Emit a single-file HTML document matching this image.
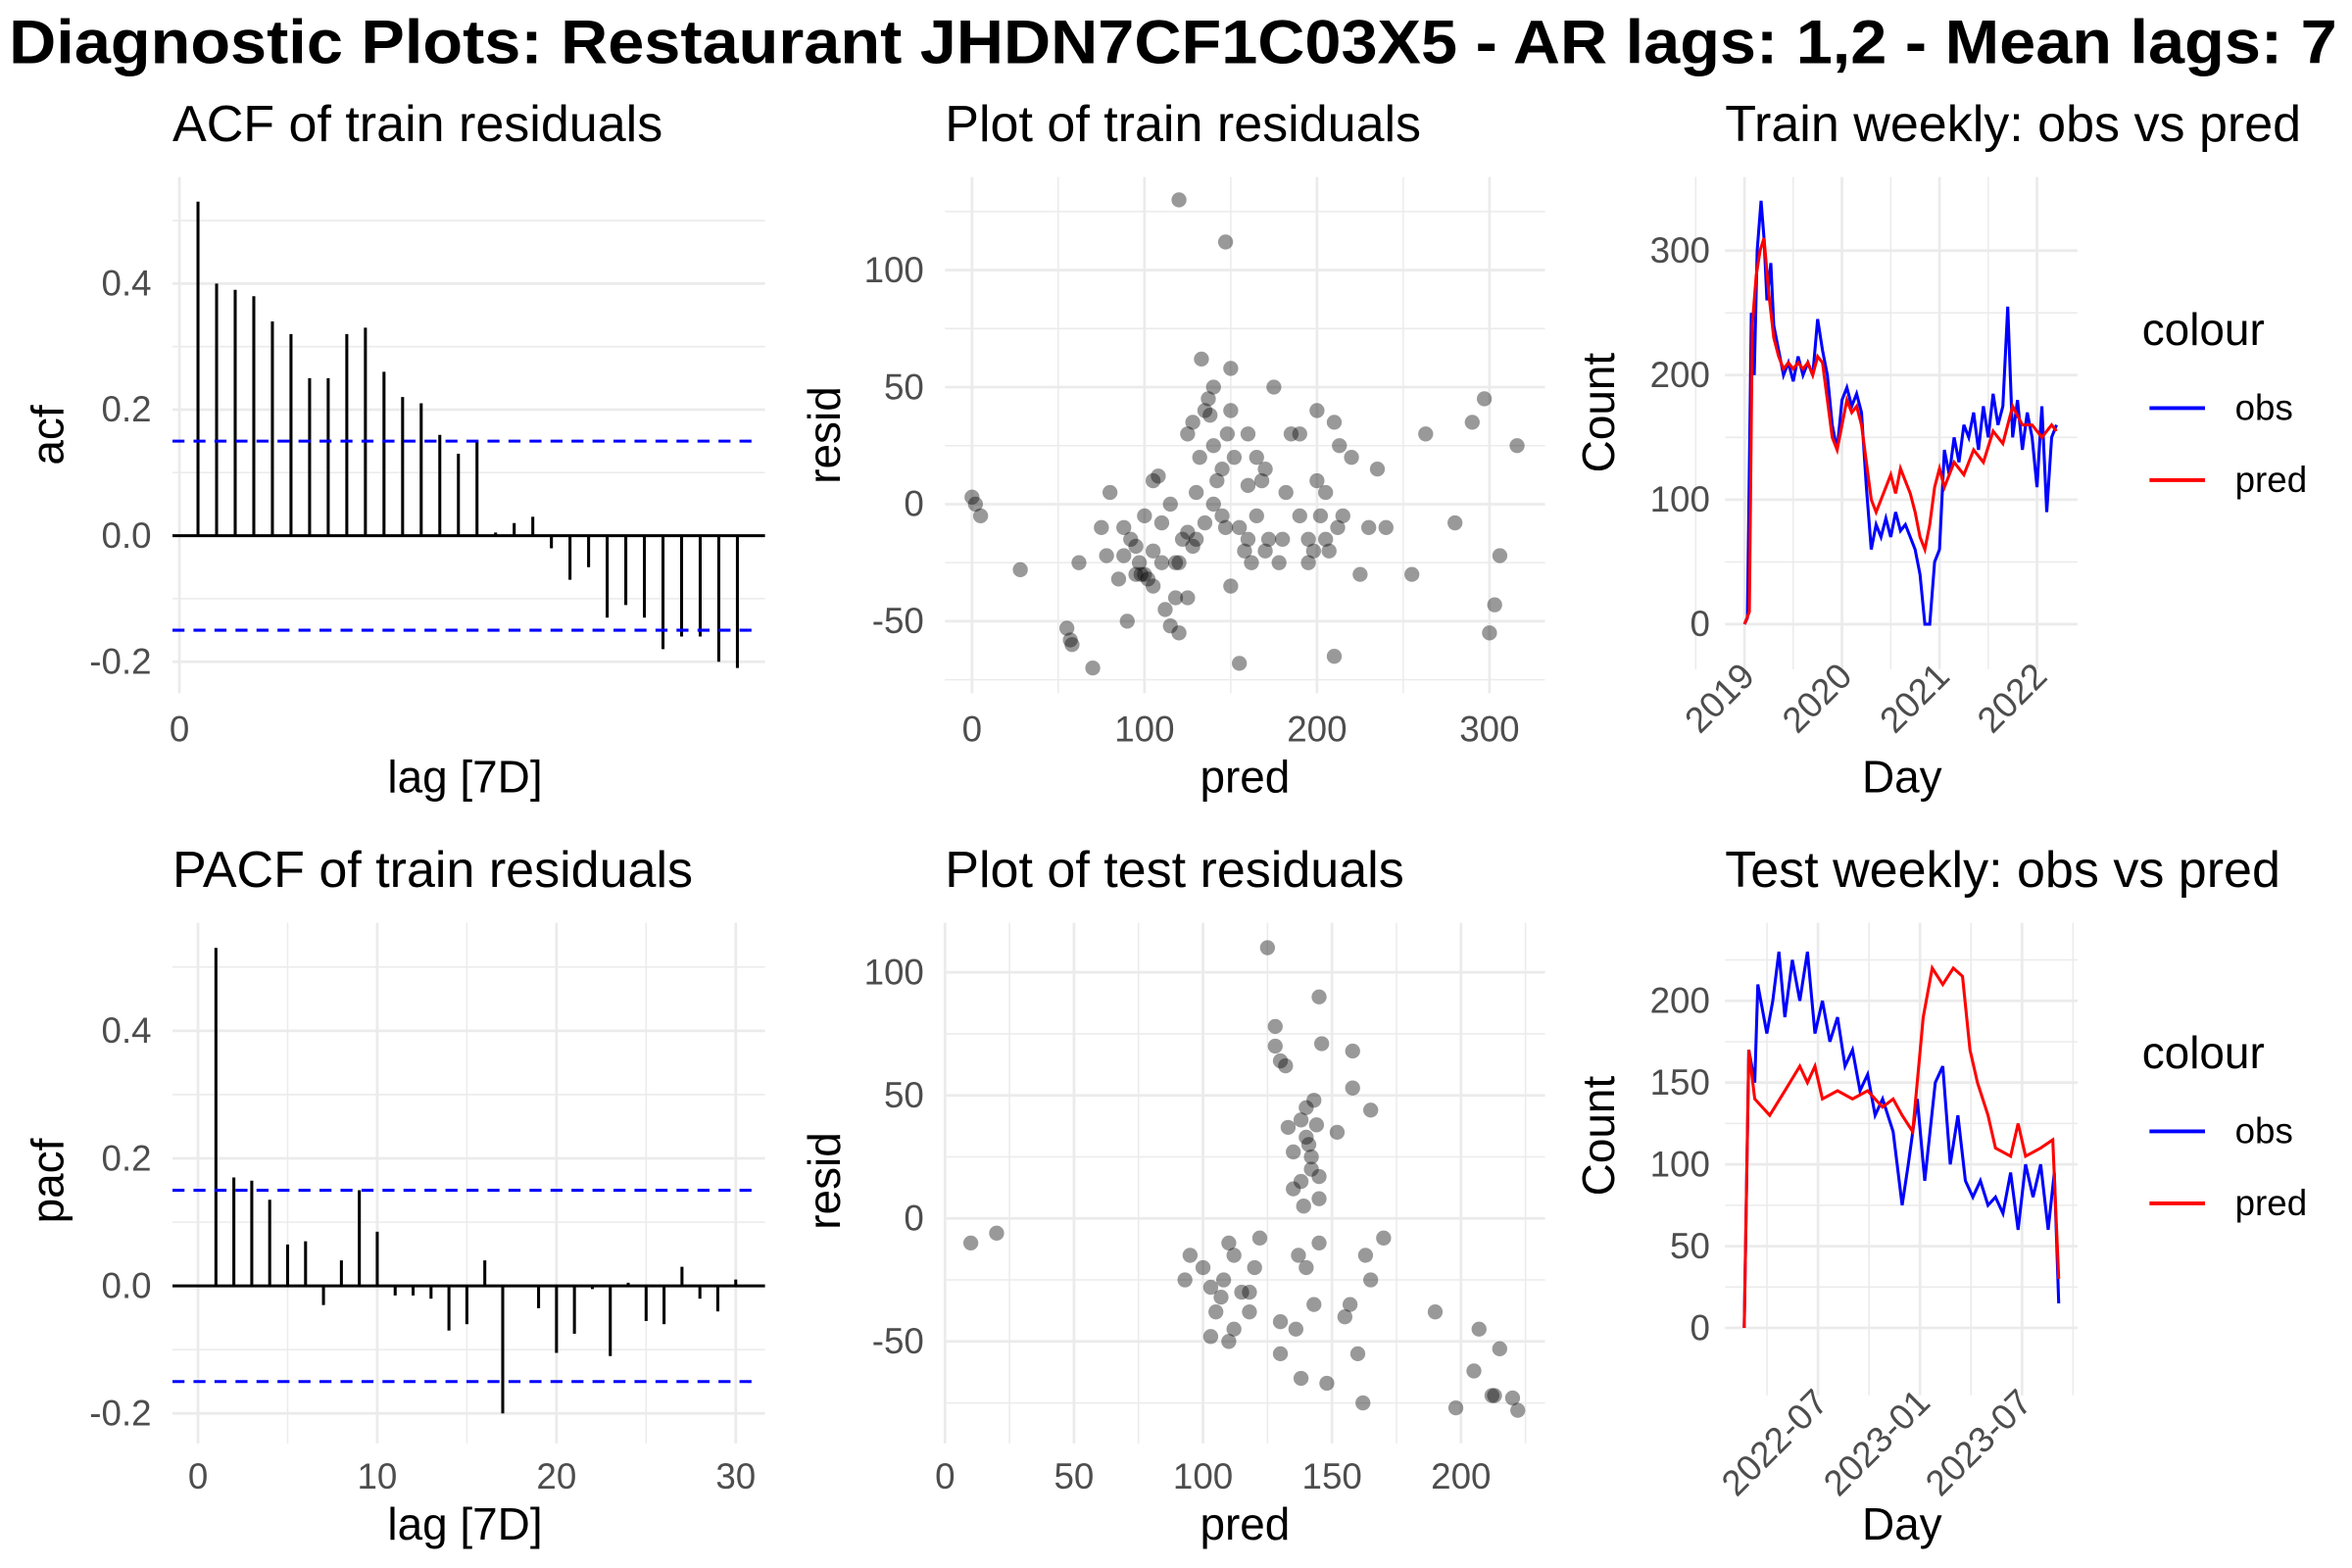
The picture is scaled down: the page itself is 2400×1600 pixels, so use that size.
<!DOCTYPE html>
<html><head><meta charset="utf-8"><style>
html,body{margin:0;padding:0;background:#fff;}
svg{display:block;font-family:"Liberation Sans",Arial,sans-serif;}
</style></head><body>
<svg id="chart" width="2400" height="1600" viewBox="0 0 1568 1045" preserveAspectRatio="none" xmlns="http://www.w3.org/2000/svg">
<rect width="1568" height="1045" fill="#fff"/>
<text x="6" y="42" font-size="41" font-weight="bold" fill="#000" textLength="1552" lengthAdjust="spacingAndGlyphs">Diagnostic Plots: Restaurant JHDN7CF1C03X5 - AR lags: 1,2 - Mean lags: 7</text>
</svg>
<script>
// ACF
const acfLags=[1,2,3,4,5,6,7,8,9,10,11,12,13,14,15,16,17,18,19,20,21,22,23,24,25,26,27,28,29,30];
const acfVals=[0.53,0.40,0.39,0.38,0.34,0.32,0.25,0.25,0.32,0.33,0.26,0.22,0.21,0.16,0.13,0.15,0.005,0.02,0.03,-0.02,-0.07,-0.05,-0.13,-0.11,-0.13,-0.18,-0.16,-0.16,-0.20,-0.21];
const acfTicks=[-0.2,0.0,0.2,0.4];
// PACF
const pacfLags=[1,2,3,4,5,6,7,8,9,10,11,12,13,14,15,16,17,18,19,20,21,22,23,24,25,26,27,28,29,30];
const pacfVals=[0.53,0.17,0.165,0.135,0.065,0.07,-0.03,0.04,0.15,0.085,-0.015,-0.015,-0.02,-0.07,-0.06,0.04,-0.2,0.0,-0.035,-0.105,-0.075,-0.005,-0.11,0.005,-0.055,-0.06,0.03,-0.02,-0.04,0.01];
const pacfXTicks=[0,10,20,30];
const ciBound=0.15;
// train residuals
const trPred=[0,2,5,28,55,57,58,62,70,75,78,80,85,88,90,92,95,97,98,100,102,105,100,105,108,110,112,115,118,120,118,122,125,128,125,128,130,132,135,137,138,140,140,142,145,147,148,150,150,152,155,155,158,160,162,165,168,170,172,175,178,180,182,185,190,195,198,200,200,202,205,207,210,210,212,215,220,225,230,235,240,255,263,280,290,297,300,303,306,316,120,147,115,130,135,140,145,105,110,125,160,165,150,133,120,88,95,160,170,190,195,205,213];
const trResid=[3,0,-5,-28,-53,-58,-60,-25,-70,-10,-22,5,-32,-22,-50,-15,-18,-25,-30,-30,-32,-20,-5,10,12,-8,-45,-52,-40,-55,-25,-15,-12,-18,30,35,5,20,40,45,38,25,50,10,-5,-10,30,58,-35,20,-10,-68,-20,30,-25,-5,10,15,-15,50,-25,-15,5,30,-5,-15,-20,10,40,-5,-15,-20,35,-65,-10,-5,20,-30,-10,15,-10,-30,30,-8,35,45,-55,-43,-22,25,130,112,0,-15,-8,0,15,-35,-25,-40,-15,20,40,62,-25,-10,-30,8,-20,30,-25,5,25];
const trXTicks=[0,100,200,300];
const trYTicks=[-50,0,50,100];
// test residuals
const tePred=[10,20,93,95,100,103,105,107,108,110,110,112,115,118,120,122,125,128,128,130,130,130,132,133,135,135,136,137,138,138,139,140,140,141,142,142,143,143,144,145,145,145,146,148,152,155,157,158,158,160,162,163,165,165,170,145,138,140,190,198,205,207,212,213,215,220,222,103,112,118];
const teResid=[-10,-6,-25,-15,-20,-28,-38,-32,-25,-10,-50,-15,-30,-38,-20,-8,110,78,70,64,-55,-42,62,37,27,12,-45,-15,40,-65,5,33,45,30,25,20,48,-35,38,17,8,-10,71,-67,35,-40,-35,53,68,-55,-75,-15,-25,44,-8,90,15,-20,-38,-77,-62,-45,-72,-72,-53,-73,-78,-48,-45,-30];
const teXTicks=[0,50,100,150,200];
const teYTicks=[-50,0,50,100];
// train weekly
const twObsT=[2019.0,2019.03,2019.07,2019.1,2019.13,2019.17,2019.2,2019.23,2019.27,2019.3,2019.35,2019.4,2019.45,2019.5,2019.55,2019.6,2019.65,2019.7,2019.75,2019.8,2019.85,2019.9,2019.95,2020.0,2020.05,2020.1,2020.15,2020.2,2020.25,2020.3,2020.35,2020.4,2020.45,2020.5,2020.55,2020.6,2020.65,2020.7,2020.75,2020.8,2020.85,2020.9,2020.95,2021.0,2021.05,2021.1,2021.15,2021.2,2021.25,2021.3,2021.35,2021.4,2021.45,2021.5,2021.55,2021.6,2021.65,2021.7,2021.75,2021.8,2021.85,2021.9,2021.95,2022.0,2022.05,2022.1,2022.15,2022.2];
const twObsV=[0,5,250,200,300,340,310,260,290,240,220,200,210,195,215,200,210,200,245,220,200,160,140,180,190,175,185,170,110,60,80,70,85,70,90,75,80,70,60,40,0,0,50,60,140,120,150,130,160,150,170,140,175,150,185,160,175,255,150,180,140,170,150,110,175,90,150,160];
const twPredT=[2019.0,2019.05,2019.08,2019.12,2019.16,2019.2,2019.25,2019.3,2019.35,2019.4,2019.45,2019.5,2019.55,2019.6,2019.65,2019.7,2019.75,2019.8,2019.85,2019.9,2019.95,2020.0,2020.05,2020.1,2020.15,2020.2,2020.25,2020.3,2020.35,2020.45,2020.5,2020.55,2020.6,2020.65,2020.7,2020.75,2020.8,2020.85,2020.9,2020.95,2021.0,2021.05,2021.15,2021.25,2021.35,2021.45,2021.55,2021.65,2021.75,2021.85,2021.95,2022.05,2022.15,2022.2];
const twPredV=[0,10,240,280,300,310,265,230,215,205,210,205,210,205,210,200,215,210,180,150,140,160,180,170,175,160,130,100,90,110,120,105,125,115,105,90,70,60,80,110,125,110,130,120,140,130,155,145,175,160,160,150,160,155];
const twXTicks=[2019,2020,2021,2022];
const twXLabels=["2019","2020","2021","2022"];
const twYTicks=[0,100,200,300];
// test weekly (x = months since 2022-01)
const teObsT=[1.66,1.93,2.28,2.46,2.99,3.34,3.70,4.05,4.49,4.93,5.38,5.82,6.26,6.70,7.15,7.59,8.03,8.47,8.92,9.36,9.80,10.42,10.95,11.31,11.84,12.28,12.90,13.34,13.78,14.23,14.67,15.11,15.55,16.0,16.44,16.88,17.33,17.77,18.21,18.65,19.1,19.54,19.9,20.16];
const teObsV=[0,170,150,210,180,200,230,190,225,200,230,180,200,175,190,160,170,145,155,130,140,120,75,100,140,90,150,160,100,130,90,80,90,75,80,70,95,60,100,80,100,60,95,15];
const tePredT=[1.66,1.93,2.28,3.16,4.05,4.93,5.38,5.82,6.26,7.15,8.03,8.92,9.8,10.42,10.95,11.57,12.19,12.72,13.34,13.96,14.5,14.94,15.38,16.0,16.44,17.33,17.77,18.21,19.1,19.81,20.16];
const tePredV=[0,170,140,130,145,160,150,160,140,145,140,145,135,140,130,120,190,220,210,220,215,170,150,130,110,105,125,105,110,115,30];
const twkXTicks=[6,12,18];
const twkXLabels=["2022-07","2023-01","2023-07"];
const twkYTicks=[0,50,100,150,200];

const svg=document.getElementById('chart');
const NS='http://www.w3.org/2000/svg';
function mk(tag,attrs,parent){const e=document.createElementNS(NS,tag);for(const k in attrs)e.setAttribute(k,attrs[k]);(parent||svg).appendChild(e);return e;}
function lin(d0,d1,r0,r1){return v=>r0+(v-d0)*(r1-r0)/(d1-d0);}
const GRID='#ebebeb', TICK='#4d4d4d';

function panel(name,x0,y0,x1,y1,title){
  const g=mk('g',{});
  
  
  const t=mk('text',{x:x0,y:y0-24,'font-size':34,fill:'#000'},g);t.textContent=title;
  
  
  return g;
}
function hgrid(g,x0,x1,y,w){mk('line',{x1:x0,x2:x1,y1:y,y2:y,stroke:GRID,'stroke-width':w},g);}
function vgrid(g,y0,y1,x,w){mk('line',{x1:x,x2:x,y1:y0,y2:y1,stroke:GRID,'stroke-width':w},g);}
function ylab(g,x,y,txt){const t=mk('text',{x:x,y:y+8,'font-size':24,fill:TICK,'text-anchor':'end'},g);t.textContent=txt;
  }
function xlab(g,x,y,txt){const t=mk('text',{x:x,y:y,'font-size':24,fill:TICK,'text-anchor':'middle'},g);t.textContent=txt;
  }
function axTitle(g,x,y,txt,rot){const t=mk('text',{x:x,y:y,'font-size':30,fill:'#000','text-anchor':'middle'},g);t.textContent=txt;
  if(rot)t.setAttribute('transform','rotate(-90 '+x+' '+y+')');
  }
function fmt(v,d){return v.toFixed(d);}

// ---- ACF ----
(function(){
  const x0=115,x1=510,y0=118,y1=462;
  const g=panel('acf-panel',x0,y0,x1,y1,'ACF of train residuals');
  const X=lin(0,1,119.6,132), Y=lin(0,0.2,357,273);
  [-0.1,0.1,0.3,0.5].forEach(v=>hgrid(g,x0,x1,Y(v),1));
  acfTicks.forEach(v=>hgrid(g,x0,x1,Y(v),1.8));
  vgrid(g,y0,y1,X(0),1.8);
  acfTicks.forEach(v=>ylab(g,101,Y(v),fmt(v,1)));
  xlab(g,X(0),494,'0');
  mk('line',{x1:x0,x2:x1,y1:Y(0),y2:Y(0),stroke:'#000','stroke-width':2},g);
  acfLags.forEach((l,i)=>{const b=mk('line',{x1:X(l),x2:X(l),y1:Y(0),y2:Y(acfVals[i]),stroke:'#000','stroke-width':2},g);
    });
  [ciBound,-ciBound].forEach(v=>{const d=mk('line',{x1:x0,x2:502,y1:Y(v),y2:Y(v),stroke:'#0000ff','stroke-width':2,'stroke-dasharray':'8,6'},g);
    });
  axTitle(g,310,528,'lag [7D]');axTitle(g,42,290,'acf',true);
})();
// ---- PACF ----
(function(){
  const x0=115,x1=510,y0=615,y1=962;
  const g=panel('pacf-panel',x0,y0,x1,y1,'PACF of train residuals');
  const X=lin(0,10,132,251.5), Y=lin(0,0.2,857,772);
  [-0.1,0.1,0.3,0.5].forEach(v=>hgrid(g,x0,x1,Y(v),1));
  [-0.2,0,0.2,0.4].forEach(v=>hgrid(g,x0,x1,Y(v),1.8));
  [5,15,25].forEach(v=>vgrid(g,y0,y1,X(v),1));
  pacfXTicks.forEach(v=>vgrid(g,y0,y1,X(v),1.8));
  [-0.2,0,0.2,0.4].forEach(v=>ylab(g,101,Y(v),fmt(v,1)));
  pacfXTicks.forEach(v=>xlab(g,X(v),992,String(v)));
  mk('line',{x1:x0,x2:x1,y1:Y(0),y2:Y(0),stroke:'#000','stroke-width':2},g);
  pacfLags.forEach((l,i)=>{const b=mk('line',{x1:X(l),x2:X(l),y1:Y(0),y2:Y(pacfVals[i]),stroke:'#000','stroke-width':2},g);
    });
  [ciBound,-ciBound].forEach(v=>{const d=mk('line',{x1:x0,x2:502,y1:Y(v),y2:Y(v),stroke:'#0000ff','stroke-width':2,'stroke-dasharray':'8,6'},g);
    });
  axTitle(g,310,1026,'lag [7D]');axTitle(g,42,787,'pacf',true);
})();
// ---- scatter ----
function scatter(name,title,x0,y0,x1,y1,X,Y,xt,yt,xMinor,yMinor,px,py,xlY,ytitleY,xtitleY){
  const g=panel(name,x0,y0,x1,y1,title);
  yMinor.forEach(v=>hgrid(g,x0,x1,Y(v),1));xMinor.forEach(v=>vgrid(g,y0,y1,X(v),1));
  yt.forEach(v=>hgrid(g,x0,x1,Y(v),1.8));xt.forEach(v=>vgrid(g,y0,y1,X(v),1.8));
  yt.forEach(v=>ylab(g,616,Y(v),String(v)));xt.forEach(v=>xlab(g,X(v),xlY,String(v)));
  px.forEach((p,i)=>{const c=mk('circle',{cx:X(p),cy:Y(py[i]),r:5,fill:'#000','fill-opacity':0.4},g);
    });
  axTitle(g,830,xtitleY,'pred');axTitle(g,560,ytitleY,'resid',true);
}
scatter('train-residuals-panel','Plot of train residuals',630,118,1030,462,lin(0,100,648,763),lin(0,50,336,258),
  trXTicks,trYTicks,[50,150,250],[-75,-25,25,75,125],trPred,trResid,494,290,528);
scatter('test-residuals-panel','Plot of test residuals',630,615,1030,962,lin(0,50,630,716),lin(0,50,812,730),
  teXTicks,teYTicks,[25,75,125,175,225],[-75,-25,25,75],tePred,teResid,992,787,1026);
// ---- weekly ----
function weekly(name,title,x0,y0,x1,y1,X,Y,xt,xl,yt,yMinor,xMinor,oT,oV,pT,pV,legY,ytitleY,dayY){
  const g=panel(name,x0,y0,x1,y1,title);
  yMinor.forEach(v=>hgrid(g,1150,x1,Y(v),1));xMinor.forEach(v=>vgrid(g,y0,y1,X(v),1));
  yt.forEach(v=>hgrid(g,1150,x1,Y(v),1.8));xt.forEach(v=>vgrid(g,y0,y1,X(v),1.8));
  yt.forEach(v=>ylab(g,1140,Y(v),String(v)));
  xt.forEach((v,i)=>{const tx=X(v)+8,ty=y1+6;const t=mk('text',{x:tx,y:ty,'font-size':24,fill:TICK,'text-anchor':'end',transform:'rotate(-45 '+tx+' '+ty+')'},g);
    t.textContent=xl[i];});
  const o=mk('polyline',{points:oT.map((t,i)=>X(t)+','+Y(oV[i])).join(' '),fill:'none',stroke:'#0000ff','stroke-width':2},g);
  
  const p=mk('polyline',{points:pT.map((t,i)=>X(t)+','+Y(pV[i])).join(' '),fill:'none',stroke:'#ff0000','stroke-width':2},g);
  
  axTitle(g,1268,dayY,'Day');axTitle(g,1076,ytitleY,'Count',true);
  const lg=mk('g',{},g);
  const lt=mk('text',{x:1428,y:legY,'font-size':30,fill:'#000'},lg);lt.textContent='colour';
  [['obs','#0000ff',legY+50],['pred','#ff0000',legY+98]].forEach(a=>{
    const e=mk('g',{},lg);
    mk('line',{x1:1433,x2:1470,y1:a[2]-8,y2:a[2]-8,stroke:a[1],'stroke-width':2.5},e);
    const tt=mk('text',{x:1490,y:a[2],'font-size':24,fill:'#000'},e);tt.textContent=a[0];});
}
weekly('train-weekly-panel','Train weekly: obs vs pred',1150,118,1385,446,lin(2019,2020,1163,1228),lin(0,100,416,333),
  twXTicks,twXLabels,twYTicks,[50,150,250],[2018.5,2019.5,2020.5,2021.5],twObsT,twObsV,twPredT,twPredV,230,275,528);
weekly('test-weekly-panel','Test weekly: obs vs pred',1150,615,1385,930,lin(6,12,1212,1280),lin(0,50,885,830.5),
  twkXTicks,twkXLabels,twkYTicks,[25,75,125,175,225],[3,9,15,21],teObsT,teObsV,tePredT,tePredV,712,757,1026);
</script>
</body></html>
